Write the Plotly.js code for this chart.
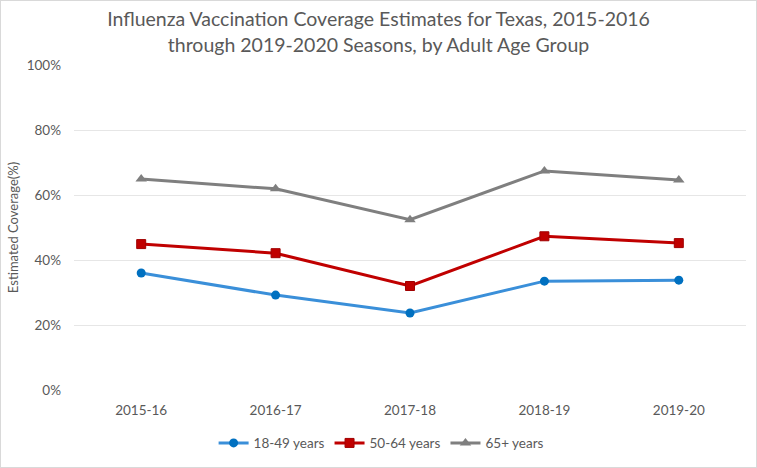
<!DOCTYPE html>
<html>
<head>
<meta charset="utf-8">
<script src="https://cdn.plot.ly/plotly-3.0.1.min.js"></script>
<style>
html,body{margin:0;padding:0;background:#fff;}
#chart{width:755px;height:466px;border:1px solid #D9D9D9;}
</style>
</head>
<body>
<div id="chart"></div>
<script>
const seasons = ["2015-16", "2016-17", "2017-18", "2018-19", "2019-20"];
const age18to49 = [36.0, 29.2, 23.7, 33.5, 33.8];
const age50to64 = [44.9, 42.1, 32.0, 47.3, 45.2];
const age65plus = [64.9, 61.9, 52.4, 67.4, 64.6];
const seriesNames = ["18-49 years", "50-64 years", "65+ years"];

const traces = [
  {x: seasons, y: age18to49, name: seriesNames[0], type: "scatter", mode: "lines+markers",
   line: {color: "#3A8FD9", width: 3}, marker: {symbol: "circle", size: 9, color: "#0070C0"}},
  {x: seasons, y: age50to64, name: seriesNames[1], type: "scatter", mode: "lines+markers",
   line: {color: "#C00000", width: 3}, marker: {symbol: "square", size: 9, color: "#C00000", line: {color: "#A00000", width: 1}}},
  {x: seasons, y: age65plus, name: seriesNames[2], type: "scatter", mode: "lines+markers",
   line: {color: "#7F7F7F", width: 3}, marker: {symbol: "triangle-up", size: 10, color: "#7F7F7F"}}
];

const layout = {
  width: 755, height: 466,
  margin: {l: 73, r: 10, t: 64, b: 76},
  paper_bgcolor: "#fff", plot_bgcolor: "#fff",
  font: {family: "Lato, 'Open Sans', sans-serif", color: "#595959", size: 13},
  title: {text: "Influenza Vaccination Coverage Estimates for Texas, 2015-2016<br>through 2019-2020 Seasons, by Adult Age Group",
          font: {size: 19.5, color: "#595959"}, x: 0.5, xanchor: "center",
          yref: "container", y: 0.946, yanchor: "middle"},
  xaxis: {type: "category", range: [-0.5, 4.5], showgrid: false, zeroline: false, showline: false,
          ticks: "", tickfont: {size: 13.5, color: "#595959"}, ticklabelstandoff: 10, fixedrange: true},
  yaxis: {range: [0, 100], dtick: 20, ticksuffix: "%", showgrid: true, gridcolor: "#E6E6E6", gridwidth: 1,
          zeroline: false, showline: false, ticks: "", tickfont: {size: 13.5, color: "#595959"},
          ticklabelstandoff: 12,
          title: {text: "Estimated Coverage(%)", font: {size: 13, color: "#595959"}, standoff: 5}},
  showlegend: true,
  legend: {orientation: "h", x: 0.457, xanchor: "center", y: -0.16, yanchor: "middle",
           font: {size: 13.5, color: "#595959"}, itemwidth: 30}
};

Plotly.newPlot("chart", traces, layout, {displayModeBar: false, staticPlot: true});
</script>
</body>
</html>
